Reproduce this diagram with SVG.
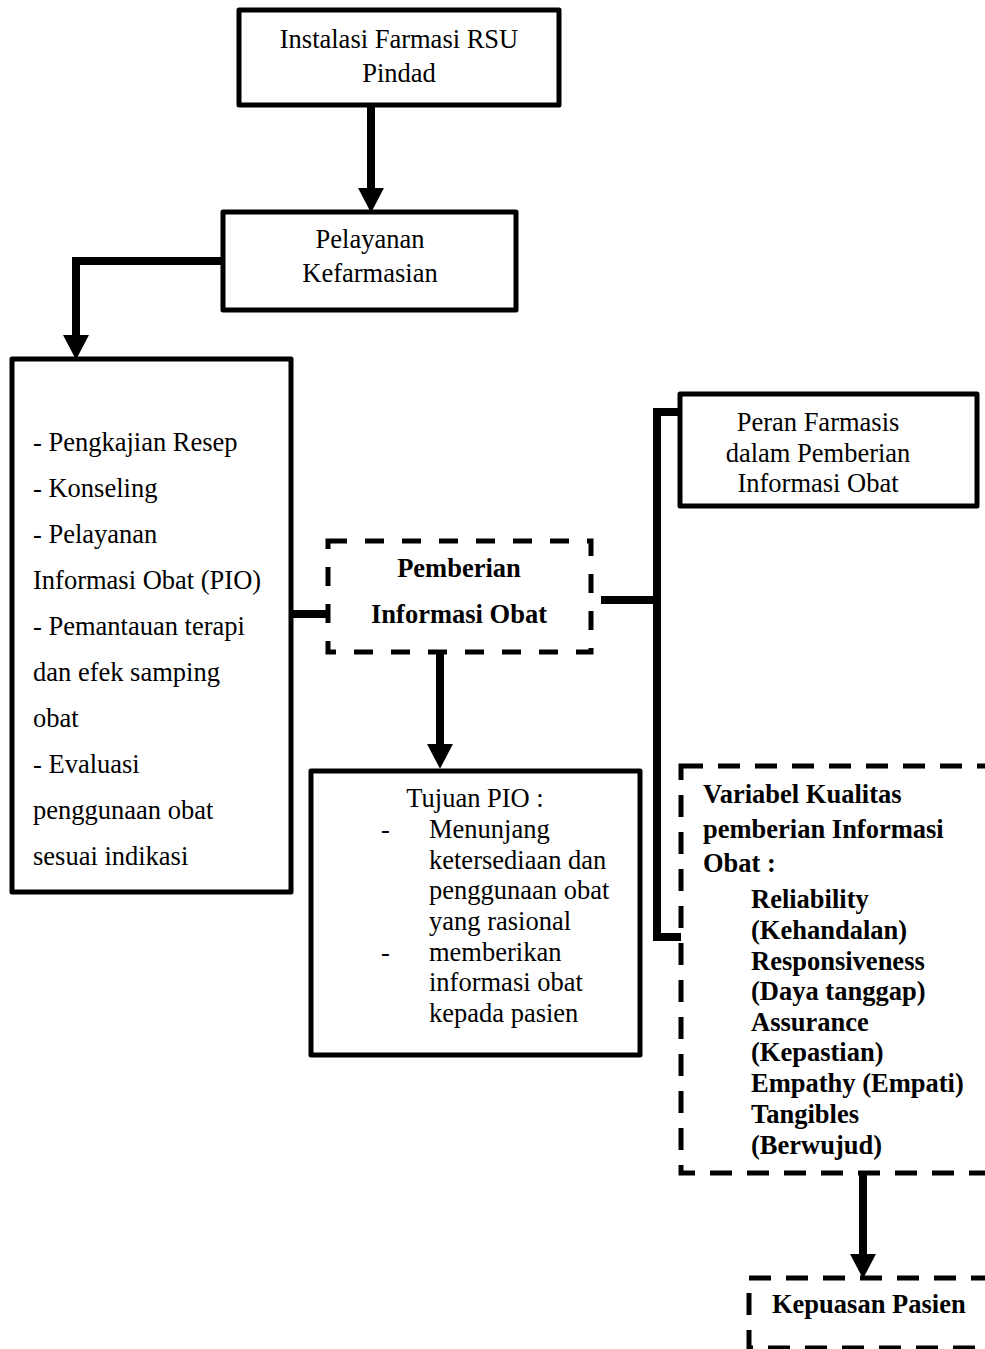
<svg xmlns="http://www.w3.org/2000/svg" width="985" height="1349" viewBox="0 0 985 1349">
<style>
text{font-family:"Liberation Serif","Times New Roman",serif;font-size:26.5px;fill:#000}
.b{font-weight:bold}
.c{text-anchor:middle}
.box{fill:#fff;stroke:#000;stroke-width:5;stroke-linejoin:round}
.dash{fill:#fff;stroke:#000;stroke-width:5;stroke-dasharray:22 15}
.dash2{fill:#fff;stroke:#000;stroke-width:5;stroke-dasharray:19 18}
.con{fill:none;stroke:#000;stroke-width:8;stroke-linejoin:miter}
</style>
<defs>
<marker id="ah" markerUnits="userSpaceOnUse" markerWidth="26" markerHeight="26" refX="1" refY="12" orient="auto" viewBox="0 0 24 24">
<path d="M0,0 L23,12 L0,24 z" fill="#000"/>
</marker>
</defs>
<rect width="985" height="1349" fill="#fff"/>

<g id="connectors">
<line class="con" x1="371" y1="106" x2="371" y2="189" marker-end="url(#ah)"/>
<polyline class="con" points="222,261 76,261 76,336" marker-end="url(#ah)"/>
<line class="con" x1="291" y1="614" x2="328" y2="614"/>
<line class="con" x1="440" y1="654" x2="440" y2="745" marker-end="url(#ah)"/>
<line class="con" x1="601" y1="600" x2="657" y2="600"/>
<polyline class="con" points="680,412 657,412 657,937 682,937"/>
<line class="con" x1="863" y1="1174" x2="863" y2="1255" marker-end="url(#ah)"/>
</g>

<g id="n1">
<rect class="box" x="239" y="10" width="320" height="95"/>
<text class="c" x="399" y="48">Instalasi Farmasi RSU</text>
<text class="c" x="399" y="82">Pindad</text>
</g>

<g id="n2">
<rect class="box" x="223" y="212" width="293" height="98"/>
<text class="c" x="370" y="248">Pelayanan</text>
<text class="c" x="370" y="282">Kefarmasian</text>
</g>

<g id="n3">
<rect class="box" x="12" y="359" width="279" height="533"/>
<text x="33" y="451">- Pengkajian Resep</text>
<text x="33" y="497">- Konseling</text>
<text x="33" y="543">- Pelayanan</text>
<text x="33" y="589">Informasi Obat (PIO)</text>
<text x="33" y="635">- Pemantauan terapi</text>
<text x="33" y="681">dan efek samping</text>
<text x="33" y="727">obat</text>
<text x="33" y="773">- Evaluasi</text>
<text x="33" y="819">penggunaan obat</text>
<text x="33" y="865">sesuai indikasi</text>
</g>

<g id="n4">
<rect class="dash2" x="328" y="541" width="263" height="111"/>
<text class="c b" x="459" y="577">Pemberian</text>
<text class="c b" x="459" y="623">Informasi Obat</text>
</g>

<g id="n5">
<rect class="box" x="311" y="771" width="329" height="284"/>
<text class="c" x="475" y="807">Tujuan PIO :</text>
<text x="381" y="838">-</text>
<text x="429" y="838">Menunjang</text>
<text x="429" y="869">ketersediaan dan</text>
<text x="429" y="899">penggunaan obat</text>
<text x="429" y="930">yang rasional</text>
<text x="381" y="961">-</text>
<text x="429" y="961">memberikan</text>
<text x="429" y="991">informasi obat</text>
<text x="429" y="1022">kepada pasien</text>
</g>

<g id="n6">
<rect class="box" x="680" y="394" width="297" height="112"/>
<text class="c" x="818" y="431">Peran Farmasis</text>
<text class="c" x="818" y="462">dalam Pemberian</text>
<text class="c" x="818" y="492">Informasi Obat</text>
</g>

<g id="n7">
<rect class="dash" x="681" y="766" width="340" height="407"/>
<text class="b" x="703" y="803">Variabel Kualitas</text>
<text class="b" x="703" y="838">pemberian Informasi</text>
<text class="b" x="703" y="872">Obat :</text>
<text class="b" x="751" y="908">Reliability</text>
<text class="b" x="751" y="939">(Kehandalan)</text>
<text class="b" x="751" y="970">Responsiveness</text>
<text class="b" x="751" y="1000">(Daya tanggap)</text>
<text class="b" x="751" y="1031">Assurance</text>
<text class="b" x="751" y="1061">(Kepastian)</text>
<text class="b" x="751" y="1092">Empathy (Empati)</text>
<text class="b" x="751" y="1123">Tangibles</text>
<text class="b" x="751" y="1154">(Berwujud)</text>
</g>

<g id="n8">
<rect class="dash" x="749" y="1278" width="300" height="70"/>
<text class="b" x="772" y="1313">Kepuasan Pasien</text>
</g>
</svg>
